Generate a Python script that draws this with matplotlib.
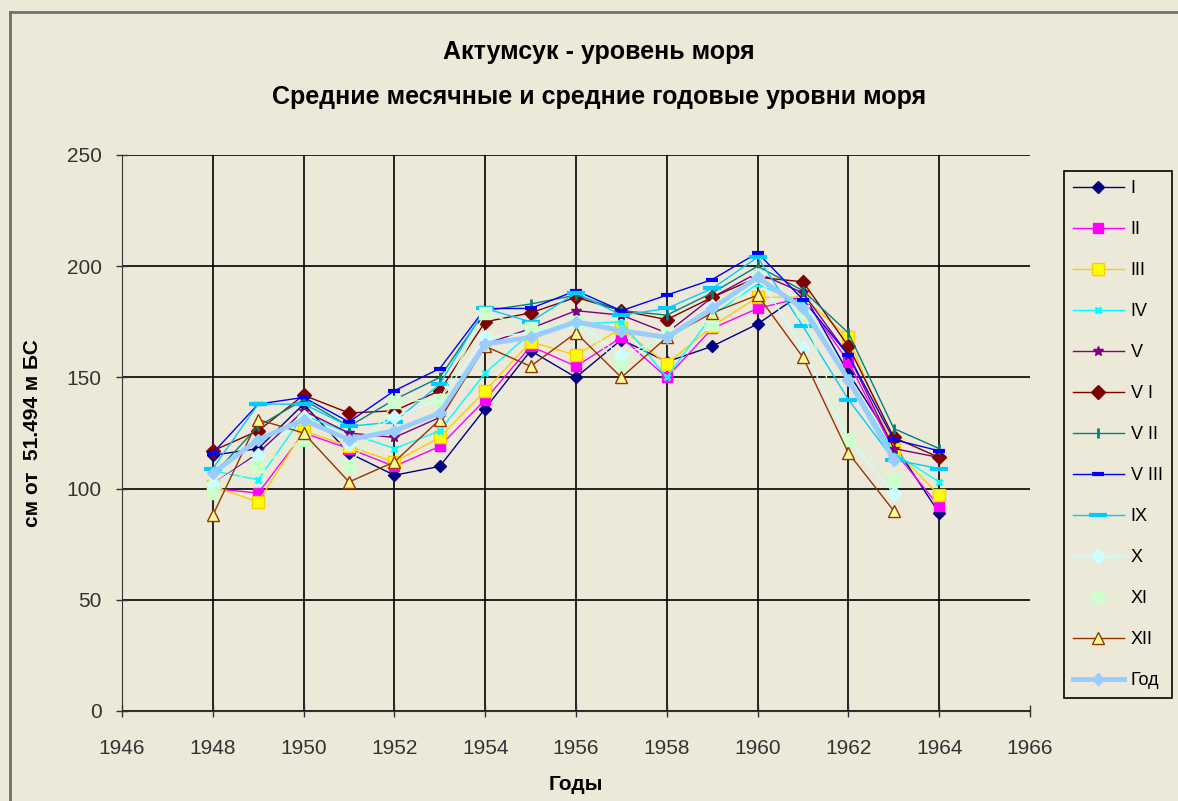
import numpy as np
import matplotlib
matplotlib.use('Agg')
import matplotlib.pyplot as plt
from matplotlib.lines import Line2D

plt.rcParams['font.family'] = ['Liberation Sans', 'DejaVu Sans']

years = list(range(1948, 1965))
nan = np.nan

m_I    = [115, 118, 138, 116, 106, 110, 136, 162, 150, 167, 157, 164, 174, 188, 152, 120, 89]
m_II   = [100, 98, 125, 118, 110, 119, 140, 164, 155, 168, 150, 172, 181, 186, 157, 117, 92]
m_III  = [101, 94, 126, 119, 112, 123, 144, 166, 160, 172, 156, 173, 186, 186, 168, 118, 97]
m_IV   = [108, 104, 133, 125, 118, 126, 152, 170, 174, 175, 150, 178, 192, 183, 150, 116, 103]
m_V    = [102, 116, 135, 125, 123, 132, 165, 172, 180, 178, 170, 186, 197, 188, 160, 118, 114]
m_VI   = [117, 126, 142, 134, 135, 144, 175, 179, 186, 180, 176, 186, 195, 193, 164, 123, 114]
m_VII  = [106, 128, 140, 128, 140, 150, 180, 183, 187, 180, 178, 188, 200, 189, 170, 127, 118]
m_VIII = [116, 138, 141, 130, 144, 154, 181, 181, 189, 180, 187, 194, 206, 185, 160, 122, 117]
m_IX   = [109, 138, 138, 128, 130, 147, 181, 175, 188, 178, 181, 190, 204, 173, 140, 113, 109]
m_X    = [102, 115, 132, 120, 132, 140, 168, 170, 175, 160, 168, 182, 196, 163, 122, 98, nan]
m_XI   = [98, 110, 122, 110, 139, 140, 179, 172, 175, 155, 170, 174, 195, 180, 122, 104, nan]
m_XII  = [88, 131, 125, 103, 112, 131, 164, 155, 170, 150, 168, 179, 187, 159, 116, 90, nan]
god    = [107, 122, 131, 122, 126, 134, 165, 168, 175, 171, 168, 181, 195, 181, 149, 113, nan]

labels = ['I', 'II', 'III', 'IV', 'V', 'V I', 'V II', 'V III', 'IX', 'X', 'XI', 'XII', 'Год']

bg = '#ECE9D8'

# (values, line color, marker, marker face, marker edge, marker size, line width)
series = [
    (m_I,    '#000080', 'D', '#000080', '#000080', 6, 1.0),
    (m_II,   '#FF00FF', 's', '#FF00FF', '#FF00FF', 7, 1.0),
    (m_III,  '#FFCC00', 's', '#FFFF00', '#FFCC00', 8, 1.0),
    (m_IV,   '#00FFFF', 'x', '#00FFFF', '#00FFFF', 5, 1.0),
    (m_V,    '#800080', '*', '#800080', '#800080', 7, 1.0),
    (m_VI,   '#800000', 'D', '#800000', '#800000', 7, 1.0),
    (m_VII,  '#008080', '|', '#008080', '#008080', 7, 1.0),
    (m_VIII, '#0000FF', '_', '#0000FF', '#0000FF', 8, 1.0),
    (m_IX,   '#00CCFF', '_', '#00CCFF', '#00CCFF', 13, 1.0),
    (m_X,    '#CCFFFF', 'D', '#CCFFFF', '#CCFFFF', 7, 1.0),
    (m_XI,   '#CCFFCC', 's', '#CCFFCC', '#CCFFCC', 8, 1.0),
    (m_XII,  '#993300', '^', '#FFFF99', '#993300', 8, 1.0),
    (god,    '#99CCFF', 'D', '#99CCFF', '#99CCFF', 6, 3.5),
]

fig = plt.figure(figsize=(11.78, 8.01), dpi=100, facecolor=bg)
ax = fig.add_axes([122 / 1178, 1 - 711 / 801, (1030 - 122) / 1178, (711 - 155) / 801])
ax.set_facecolor(bg)

for (vals, col, mk, fc, ec, ms, lw), lab in zip(series, labels):
    mew = 3 if mk == '_' else (2 if mk in ('|', 'x') else 1)
    ax.plot(years, vals, color=col, lw=lw, marker=mk, markersize=ms,
            markerfacecolor=fc, markeredgecolor=ec, markeredgewidth=mew, label=lab)

ax.set_xlim(1946, 1966)
ax.set_ylim(0, 250)
ax.set_xticks(range(1946, 1967, 2))
ax.set_yticks(range(0, 251, 50))
ax.grid(True, color='black', lw=1.2)
ax.set_axisbelow(True)
# no vertical gridline at the right edge (1966)
ax.xaxis.get_gridlines()[-1].set_visible(False)
for s in ['top', 'right']:
    ax.spines[s].set_visible(False)
for s in ['left', 'bottom']:
    ax.spines[s].set_color('#333333')
ax.tick_params(axis='both', direction='inout', length=9, width=1, colors='#333333', labelsize=15)
ax.tick_params(axis='x', pad=16)
ax.tick_params(axis='y', pad=10)

ax.set_xlabel('Годы', fontsize=15, fontweight='bold', labelpad=12)
ax.set_ylabel('см от  51.494 м БС', fontsize=15, fontweight='bold', labelpad=18)

fig.text(599 / 1178, 1 - 52 / 801, 'Актумсук - уровень моря', ha='center', va='center',
         fontsize=18, fontweight='bold')
fig.text(599 / 1178, 1 - 97 / 801, 'Средние месячные и средние годовые уровни моря',
         ha='center', va='center', fontsize=18, fontweight='bold')

leg = fig.legend(loc='upper left', bbox_to_anchor=(1064 / 1178, 1 - 171 / 801),
                 fontsize=13, labelspacing=1.33, handlelength=2.8, handletextpad=0.4,
                 borderpad=0.5, borderaxespad=0, fancybox=False, framealpha=1,
                 facecolor=bg, edgecolor='black')
leg.get_frame().set_linewidth(1.2)

# chart area border
fig.add_artist(Line2D([10 / 1178, 10 / 1178], [0, 1 - 12 / 801], color='#707070', lw=2))
fig.add_artist(Line2D([10 / 1178, 1], [1 - 12 / 801, 1 - 12 / 801], color='#707070', lw=2))

plt.savefig('out.png', dpi=100, facecolor=bg)
